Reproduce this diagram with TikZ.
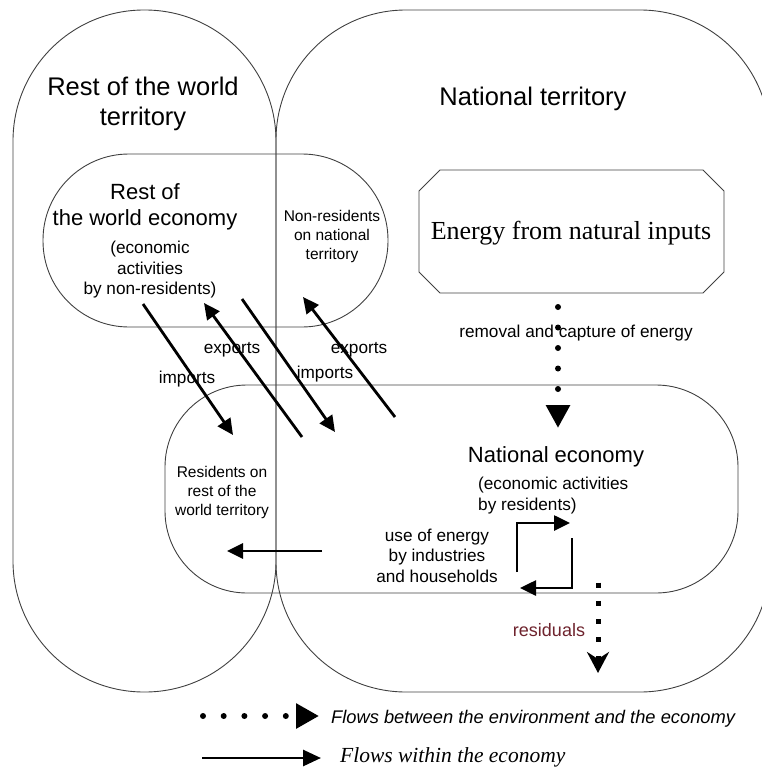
\documentclass[tikz,border=0pt]{standalone}
\usepackage{fontspec}
\setmainfont{Liberation Sans}
\newfontfamily\seriffont{Liberation Serif}
\usetikzlibrary{arrows.meta}
\begin{document}
\begin{tikzpicture}[x=1pt,y=-1pt,
  region/.style={draw=black!75, line width=0.9pt},
  flow/.style={line width=2.8pt, -{Triangle[length=16pt,width=15pt]}},
  envflow/.style={line width=6pt, line cap=round, dash pattern=on 0pt off 20.5pt, -{Triangle[length=23pt,width=23pt]}},
  resflow/.style={line width=5pt, line cap=butt, dash pattern=on 5pt off 13.3pt, -{Stealth[length=21pt,width=22pt,inset=7pt]}},
  lbl/.style={inner sep=0pt, align=center},
  big/.style={font=\fontsize{25.5}{30}\selectfont},
  mid/.style={font=\fontsize{22}{25.5}\selectfont},
  small/.style={font=\fontsize{17.2}{20.5}\selectfont},
  tiny/.style={font=\fontsize{15.5}{18.8}\selectfont}
]
\useasboundingbox (0,0) rectangle (761,768);

% regions
\draw[region, rounded corners=131pt] (13,10) rectangle (276,692);
\draw[region, rounded corners=130pt] (276,10) rectangle (770,692);
\draw[region, rounded corners=86pt] (43,154) rectangle (388,327);
\draw[region, rounded corners=82pt] (165,385) rectangle (738,593);
\draw[region] (440,170) -- (703,170) -- (724,191) -- (724,272) -- (703,293) -- (440,293) -- (419,272) -- (419,191) -- cycle;

% texts
\node[lbl, big] (rowt) at (143,104) {Rest of the world\\territory};
\node[lbl, big] (nt) at (533,98.5) {National territory};
\node[lbl, mid] (rowe) at (145,207) {Rest of\\the world economy};
\node[lbl, small] (rowea) at (150,270) {(economic\\activities\\by non-residents)};
\node[lbl, tiny] (nonres) at (332,236.5) {Non-residents\\on national\\territory};
\node[lbl, font=\seriffont\fontsize{26}{30}\selectfont] (energy) at (571,233.5) {Energy from natural inputs};
\node[lbl, small] (removal) at (576,333.5) {removal and capture of energy};
\node[lbl, mid] (ne) at (556,456.5) {National economy};
\node[lbl, small, align=left, anchor=west] (nea) at (478,495.5) {(economic activities\\by residents)};
\node[lbl, small] (use) at (437,555.5) {use of energy\\by industries\\and households};
\node[lbl, tiny] (resrow) at (222,492.5) {Residents on\\rest of the\\world territory};
\node[lbl, small] (exp1) at (232,349.5) {exports};
\node[lbl, small] (imp1) at (187,379.5) {imports};
\node[lbl, small] (exp2) at (359,349.5) {exports};
\node[lbl, small] (imp2) at (325,374.5) {imports};
\node[lbl, font=\fontsize{18}{21}\selectfont, text={rgb,255:red,110;green,35;blue,45}] (resid) at (549,630.5) {residuals};

% coordinates for flows
\coordinate (a1) at (143,304); \coordinate (a2) at (233,435);
\coordinate (b1) at (302,437); \coordinate (b2) at (204,303);
\coordinate (c1) at (242,299); \coordinate (c2) at (335,432);
\coordinate (d1) at (395,417); \coordinate (d2) at (303,297);
\coordinate (h1) at (322,551); \coordinate (h2) at (227,551);
\coordinate (l1) at (517,572); \coordinate (l2) at (570,523);
\coordinate (m1) at (572,538); \coordinate (m2) at (520,588);
\coordinate (e1) at (558,307); \coordinate (e2) at (558,428);
\coordinate (r1) at (598,582.5); \coordinate (r2) at (598,673);

\draw[flow] (a1) -- (a2);
\draw[flow] (b1) -- (b2);
\draw[flow] (c1) -- (c2);
\draw[flow] (d1) -- (d2);
\draw[flow] (h1) -- (h2);
\draw[flow, line width=2.6pt] (l1) |- (l2);
\draw[flow, line width=2.6pt] (m1) |- (m2);
\draw[envflow] (e1) -- (e2);
\draw[resflow] (r1) -- (r2);

% legend
\coordinate (g1) at (203,716); \coordinate (g2) at (319,716);
\coordinate (k1) at (202,758); \coordinate (k2) at (321,758);
\draw[envflow, dash pattern=on 0pt off 20.7pt, -{Triangle[length=23pt,width=24pt]}] (g1) -- (g2);
\draw[flow, -{Triangle[length=18pt,width=16pt]}] (k1) -- (k2);
\node[lbl, anchor=west, font=\itshape\fontsize{18.3}{21}\selectfont] (leg1) at (331,718.5) {Flows between the environment and the economy};
\node[lbl, anchor=west, font=\seriffont\itshape\fontsize{21.5}{24}\selectfont] (leg2) at (340,757.5) {Flows within the economy};
\end{tikzpicture}
\end{document}
